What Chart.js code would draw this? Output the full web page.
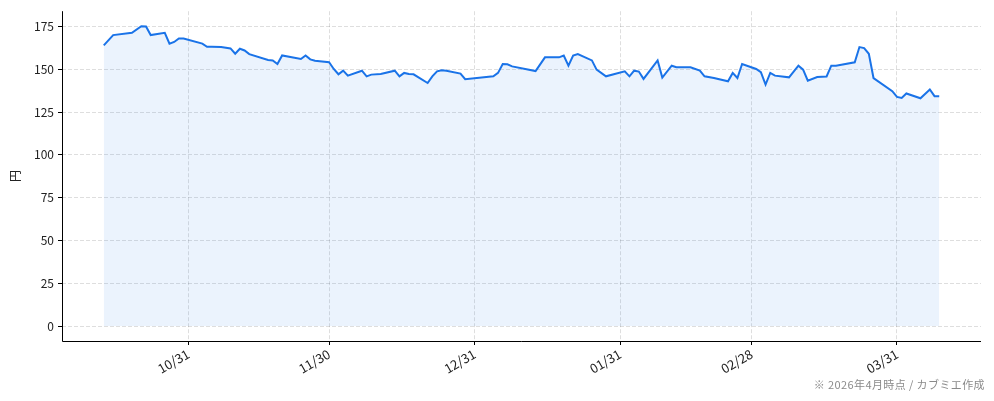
<!DOCTYPE html>
<html>
<head>
<meta charset="utf-8">
<script src="https://cdn.jsdelivr.net/npm/chart.js@4/dist/chart.umd.min.js"></script>
<style>
  html, body { margin: 0; padding: 0; background: #fff; }
  #wrap { position: relative; width: 994px; height: 401px; }
  #note { position: absolute; right: 9px; top: 376px; font: 11px "Noto Sans CJK JP", "Noto Sans", sans-serif; letter-spacing: 0.4px; color: #8a8a8a; white-space: nowrap; }
</style>
</head>
<body>
<div id="wrap">
  <canvas id="c"></canvas>
  <div id="note">※ 2026年4月時点 / カブミエ作成</div>
</div>
<script>
// Day offsets relative to 2025-10-31
const days = [-18,-16,-12,-10,-9,-8,-5,-4,-3,-2,-1,3,4,5,7,9,10,11,12,13,17,18,19,20,24,25,26,27,30,31,32,33,34,37,38,39,41,44,45,46,47,48,51,52,53,54,55,58,59,65,66,67,68,69,74,76,79,80,81,82,83,86,87,89,93,94,95,96,97,100,101,103,104,107,109,110,112,115,116,117,118,121,122,123,124,125,128,130,131,132,134,136,137,138,142,143,144,145,146,150,151,152,153,156,158,159,160];
const prices = [164,170,171.3,175.2,175,170,171.3,165,166,168,168,165,163.2,163.2,163,162.2,159.1,162,161,158.9,155.4,155.2,153.1,158.1,156,158.1,155.8,155,154.1,150.2,147.1,149.2,146.3,149.2,145.9,146.9,147.3,149.2,145.9,147.9,147.3,147.1,142,145.9,148.8,149.4,149.2,147.5,144.2,145.9,147.9,153.1,152.9,151.7,149,157,157,158,152.1,158,158.9,155.2,149.8,145.9,148.8,145.9,149.2,148.7,144.4,155.2,145.2,152.1,151.2,151.2,149.2,145.9,144.9,143,147.9,144.9,153.1,150.2,148.3,141.1,147.9,146.3,145.3,152.1,149.8,143.4,145.5,145.8,152.1,152.1,154.1,163,162.4,159.1,144.9,137.2,133.9,133.3,135.9,133.1,138.2,134.3,134.3];
const tickDays = [0,30,61,92,120,151];
const tickLabels = ['10/31','11/30','12/31','01/31','02/28','03/31'];
const yTicks = [0,25,50,75,100,125,150,175];
const yTitle = '円';

const points = days.map((d, i) => ({ x: d, y: prices[i] }));
const span = days[days.length - 1] - days[0];
const xMin = days[0] - span * 0.05, xMax = days[days.length - 1] + span * 0.05;
const pMax = Math.max(...prices);
const yMin = -pMax * 0.05, yMax = pMax * 1.05;

const fontFam = '"Noto Sans CJK JP", "Noto Sans", sans-serif';
const gridCol = 'rgba(0,0,0,0.13)';

// solid black axis spines (left and bottom) drawn over the dashed grid
const spines = {
  id: 'spines',
  afterDatasetsDraw(chart) {
    const { ctx, chartArea: a } = chart;
    ctx.save();
    ctx.setLineDash([]);
    ctx.strokeStyle = '#000';
    ctx.lineWidth = 1;
    ctx.beginPath();
    ctx.moveTo(a.left + 0.5, a.top);
    ctx.lineTo(a.left + 0.5, a.bottom + 0.5);
    ctx.lineTo(a.right, a.bottom + 0.5);
    ctx.stroke();
    ctx.restore();
  }
};

new Chart(document.getElementById('c'), {
  type: 'line',
  data: {
    datasets: [{
      data: points,
      borderColor: '#1a73e8',
      borderWidth: 2,
      backgroundColor: 'rgba(26,115,232,0.085)',
      fill: 'origin',
      pointRadius: 0,
      tension: 0
    }]
  },
  plugins: [spines],
  options: {
    responsive: true,
    maintainAspectRatio: false,
    animation: false,
    layout: { padding: { top: 10, right: 13, left: 0, bottom: 0 } },
    plugins: { legend: { display: false }, tooltip: { enabled: false } },
    scales: {
      x: {
        type: 'linear',
        min: xMin, max: xMax,
        afterBuildTicks: (s) => { s.ticks = tickDays.map(v => ({ value: v })); },
        afterFit: (s) => { s.height = 60; },
        ticks: {
          callback: (v) => { const i = tickDays.indexOf(v); return i >= 0 ? tickLabels[i] : ''; },
          maxRotation: 30, minRotation: 30, autoSkip: false,
          color: '#222', font: { family: fontFam, size: 13 }, padding: 1
        },
        grid: {
          color: gridCol, lineWidth: 1,
          tickColor: '#000', tickLength: 4, tickBorderDash: [], tickWidth: 1
        },
        border: { display: false, dash: [4, 2] }
      },
      y: {
        type: 'linear',
        min: yMin, max: yMax,
        afterBuildTicks: (s) => { s.ticks = yTicks.map(v => ({ value: v })); },
        afterFit: (s) => { s.width = 62; },
        title: { display: true, text: yTitle, color: '#222', font: { family: fontFam, size: 12 }, padding: { top: 8, bottom: 0 } },
        ticks: { color: '#222', font: { family: fontFam, size: 12 }, padding: 4 },
        grid: {
          color: gridCol, lineWidth: 1,
          tickColor: '#000', tickLength: 4, tickBorderDash: [], tickWidth: 1
        },
        border: { display: false, dash: [4, 2] }
      }
    }
  }
});
</script>
</body>
</html>
